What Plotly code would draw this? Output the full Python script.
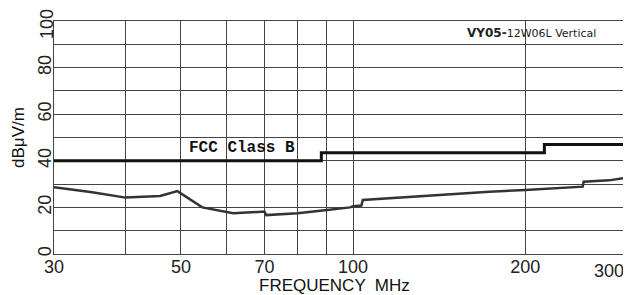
import plotly.graph_objects as go
import math

# Measured emission (dBuV/m) vs frequency (MHz)
freq_mhz = [30, 35, 40, 46, 49.3, 54.5, 61.7, 70, 70.5, 80, 90, 98.8, 100, 103.4, 104, 130, 173, 200, 252, 253, 280, 300]
level_db = [28.6, 26.5, 24.2, 24.9, 27.0, 20.0, 17.5, 18.2, 16.7, 17.5, 18.9, 20.0, 20.5, 20.8, 23.2, 24.8, 26.7, 27.5, 28.9, 31.0, 31.6, 32.7]

# FCC Class B limit
limit_freq = [30, 88, 88, 216, 216, 300]
limit_db = [40, 40, 43.5, 43.5, 47, 47]

x_grid = [30, 40, 50, 60, 70, 80, 90, 100, 200, 300]
x_text = ["30", "", "50", "", "70", "", "", "100", "200", ""]
y_grid = [0, 10, 20, 30, 40, 50, 60, 70, 80, 90, 100]
y_text = ["0", "", "20", "", "40", "", "60", "", "80", "", ""]

fig = go.Figure()
fig.add_trace(go.Scatter(x=limit_freq, y=limit_db, mode="lines",
                         line=dict(color="#111111", width=3), hoverinfo="skip"))
fig.add_trace(go.Scatter(x=freq_mhz, y=level_db, mode="lines",
                         line=dict(color="#333333", width=2.5), hoverinfo="skip"))

# page body has an 8px default margin, so the figure is sized/offset to compensate
fig.update_layout(
    width=623, height=287,
    margin=dict(l=46, r=5, t=13, b=41, autoexpand=False),
    paper_bgcolor="white", plot_bgcolor="white",
    showlegend=False,
    font=dict(family="Liberation Sans, Arial, sans-serif", color="#222222"),
    xaxis=dict(type="log", range=[math.log10(30), math.log10(300)],
               tickvals=x_grid, ticktext=x_text, tickangle=0, automargin=False,
               showgrid=True, gridcolor="#444444", gridwidth=1,
               showline=True, linecolor="#444444", linewidth=1, mirror=True,
               ticks="", tickfont=dict(size=18, color="#222222"), ticklabelstandoff=-4,
               zeroline=False),
    yaxis=dict(range=[0, 100], tickvals=y_grid, ticktext=y_text, tickangle=-90, automargin=False,
               showgrid=True, gridcolor="#444444", gridwidth=1,
               showline=True, linecolor="#444444", linewidth=1, mirror=True,
               ticks="", tickfont=dict(size=18, color="#222222"), ticklabelstandoff=-5,
               zeroline=False),
)

fig.add_annotation(x=-0.0122, y=100, xref="paper", yref="y", yshift=-3, textangle=-90,
                   text="100", showarrow=False, xanchor="center", yanchor="middle",
                   font=dict(size=18, color="#222222"))
fig.add_annotation(x=math.log10(300), y=0, xref="x", yref="y", yshift=-5,
                   text="300", showarrow=False, xanchor="right", yanchor="top",
                   font=dict(size=18, color="#222222"))
fig.add_annotation(x=0.49, y=-0.134, xref="paper", yref="paper",
                   text="FREQUENCY  MHz", showarrow=False, xanchor="center", yanchor="middle",
                   borderpad=0, font=dict(size=17, color="#111111"))
fig.add_annotation(x=-0.0622, y=0.5, xref="paper", yref="paper", textangle=-90,
                   text="dBμV/m", showarrow=False, xanchor="center", yanchor="middle",
                   borderpad=0, font=dict(size=17, color="#111111"))
fig.add_annotation(x=0.951, y=0.948, xref="paper", yref="paper",
                   text="<b>VY05-</b><span style='font-size:11px'>12W06L Vertical</span>",
                   showarrow=False, xanchor="right", yanchor="middle",
                   font=dict(family="DejaVu Sans, sans-serif", size=12, color="#222222"))
fig.add_annotation(x=math.log10(64), y=45.5, xref="x", yref="y",
                   text="<b>FCC Class B</b>", showarrow=False,
                   xanchor="center", yanchor="middle",
                   font=dict(family="Liberation Mono, monospace", size=16, color="#111111"))

fig.write_html("out.html")
